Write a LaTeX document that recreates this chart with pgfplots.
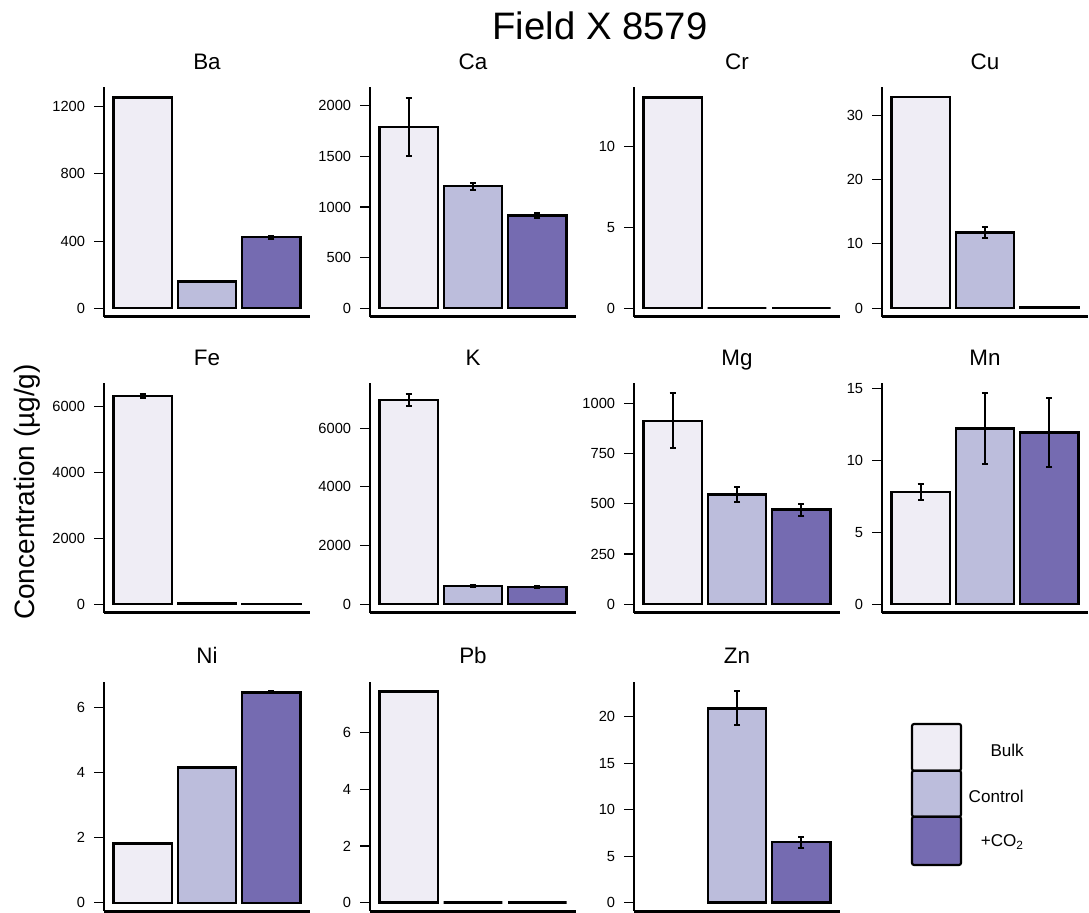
\documentclass[border=0pt]{standalone}
\usepackage{pgfplots}
\pgfplotsset{compat=1.18}
\usepackage{fontspec}
\setmainfont{Liberation Sans}
\definecolor{cbulk}{HTML}{EFEDF5}
\definecolor{cctrl}{HTML}{BCBDDC}
\definecolor{cco}{HTML}{756BB1}
\pgfplotsset{
 panel/.style={
  scale only axis, width=154.5pt, height=172.125pt, anchor=south west,
  axis lines*=left, axis line style={line width=2pt},
  xmin=-0.06, xmax=3.46, xtick=\empty,
  tick align=outside, major tick length=7.5pt,
  every tick/.style={black, line width=0.8pt},
  tick label style={font=\fontsize{11}{12}\selectfont},
  yticklabel style={anchor=east, inner sep=0pt, xshift=-6.5pt},
  /pgf/number format/assume math mode=true,
  /pgf/number format/1000 sep={},
  scaled y ticks=false,
  title style={at={(0.5,1)}, anchor=base, yshift=7.5pt, inner sep=0pt, font=\fontsize{16.8}{18}\selectfont},
  ybar, bar width=1,
  clip=false,
 },
 b/.style={fill=#1, draw=black, line width=1.8pt, bar shift=0pt},
 eb/.style={error bars/.cd, y dir=both, y explicit, error bar style={line width=1.5pt, black, solid}, error mark options={rotate=90, mark size=2.3pt, line width=1.5pt, black}},
}
\begin{document}
\begin{tikzpicture}
\useasboundingbox (0,0) rectangle (816.75pt,684.75pt);
\node[anchor=base, font=\fontsize{28.7}{31}\selectfont] at (450pt,655.125pt) {Field X 8579};
\node[rotate=90, font=\fontsize{21}{23}\selectfont] at (20.5pt,315.75pt) {Concentration (µg/g)};
% Row 1
\begin{axis}[panel, at={(78pt,447.15pt)}, title={Ba}, ymin=-50.6, ymax=1315.6, ytick={0,400,800,1200}]
\addplot[b=cbulk] coordinates {(0.6,1254)};
\addplot[b=cctrl, eb] coordinates {(1.7,159) +- (0,5)};
\addplot[b=cco, eb] coordinates {(2.8,424) +- (0,9)};
\end{axis}
\begin{axis}[panel, at={(277.5pt,447.15pt)}, title={Ca}, ymin=-83.9, ymax=2181.9, ytick={0,500,1000,1500,2000}]
\addplot[b=cbulk, eb] coordinates {(0.6,1792) +- (0,287)};
\addplot[b=cctrl, eb] coordinates {(1.7,1205) +- (0,35)};
\addplot[b=cco, eb] coordinates {(2.8,918) +- (0,25)};
\end{axis}
\begin{axis}[panel, at={(475.5pt,447.15pt)}, title={Cr}, ymin=-0.524, ymax=13.624, ytick={0,5,10}]
\addplot[b=cbulk] coordinates {(0.6,13.0)};
\addplot[b=cctrl] coordinates {(1.7,0)};
\addplot[b=cco] coordinates {(2.8,0)};
\end{axis}
\begin{axis}[panel, at={(661.5pt,447.15pt)}, title={Cu}, ymin=-1.32, ymax=34.32, ytick={0,10,20,30}]
\addplot[b=cbulk] coordinates {(0.6,32.8)};
\addplot[b=cctrl, eb] coordinates {(1.7,11.74) +- (0,0.9)};
\addplot[b=cco] coordinates {(2.8,0.2)};
\end{axis}
% Row 2
\begin{axis}[panel, at={(78pt,225.15pt)}, title={Fe}, ymin=-258, ymax=6707, ytick={0,2000,4000,6000}]
\addplot[b=cbulk, eb] coordinates {(0.6,6322) +- (0,70)};
\addplot[b=cctrl] coordinates {(1.7,30)};
\addplot[b=cco] coordinates {(2.8,10)};
\end{axis}
\begin{axis}[panel, at={(277.5pt,225.15pt)}, title={K}, ymin=-289.7, ymax=7531.7, ytick={0,2000,4000,6000}]
\addplot[b=cbulk, eb] coordinates {(0.6,6963) +- (0,200)};
\addplot[b=cctrl, eb] coordinates {(1.7,622) +- (0,30)};
\addplot[b=cco, eb] coordinates {(2.8,588) +- (0,30)};
\end{axis}
\begin{axis}[panel, at={(475.5pt,225.15pt)}, title={Mg}, ymin=-42.3, ymax=1099.3, ytick={0,250,500,750,1000}]
\addplot[b=cbulk, eb] coordinates {(0.6,912) +- (0,137)};
\addplot[b=cctrl, eb] coordinates {(1.7,547) +- (0,36)};
\addplot[b=cco, eb] coordinates {(2.8,471) +- (0,30)};
\end{axis}
\begin{axis}[panel, at={(661.5pt,225.15pt)}, title={Mn}, ymin=-0.59, ymax=15.34, ytick={0,5,10,15}]
\addplot[b=cbulk, eb] coordinates {(0.6,7.79) +- (0,0.58)};
\addplot[b=cctrl, eb] coordinates {(1.7,12.2) +- (0,2.47)};
\addplot[b=cco, eb] coordinates {(2.8,11.92) +- (0,2.4)};
\end{axis}
% Row 3
\begin{axis}[panel, at={(78pt,1.35pt)}, title={Ni}, ymin=-0.261, ymax=6.791, ytick={0,2,4,6}]
\addplot[b=cbulk] coordinates {(0.6,1.82)};
\addplot[b=cctrl, eb] coordinates {(1.7,4.15) +- (0,0.02)};
\addplot[b=cco, eb] coordinates {(2.8,6.46) +- (0,0.03)};
\end{axis}
\begin{axis}[panel, at={(277.5pt,1.35pt)}, title={Pb}, ymin=-0.30, ymax=7.80, ytick={0,2,4,6}]
\addplot[b=cbulk] coordinates {(0.6,7.45)};
\addplot[b=cctrl] coordinates {(1.7,0)};
\addplot[b=cco] coordinates {(2.8,0)};
\end{axis}
\begin{axis}[panel, at={(475.5pt,1.35pt)}, title={Zn}, ymin=-0.915, ymax=23.795, ytick={0,5,10,15,20}]
\addplot[b=cctrl, eb] coordinates {(1.7,20.93) +- (0,1.83)};
\addplot[b=cco, eb] coordinates {(2.8,6.51) +- (0,0.58)};
\end{axis}
% Legend
\draw[fill=cbulk, line width=1.6pt, rounded corners=1.5pt] (684pt,141.75pt) rectangle (720.75pt,106.725pt);
\draw[fill=cctrl, line width=1.6pt, rounded corners=1.5pt] (684pt,106.725pt) rectangle (720.75pt,72.225pt);
\draw[fill=cco, line width=1.6pt, rounded corners=1.5pt] (684pt,72.225pt) rectangle (720.75pt,36pt);
\node[anchor=east, inner sep=0pt, font=\fontsize{12.8}{14}\selectfont] at (768pt,122.25pt) {Bulk};
\node[anchor=east, inner sep=0pt, font=\fontsize{12.8}{14}\selectfont] at (768pt,87.75pt) {Control};
\node[anchor=east, inner sep=0pt, font=\fontsize{12.8}{14}\selectfont] at (768pt,53.475pt) {+CO\textsubscript{2}};
\end{tikzpicture}
\end{document}
